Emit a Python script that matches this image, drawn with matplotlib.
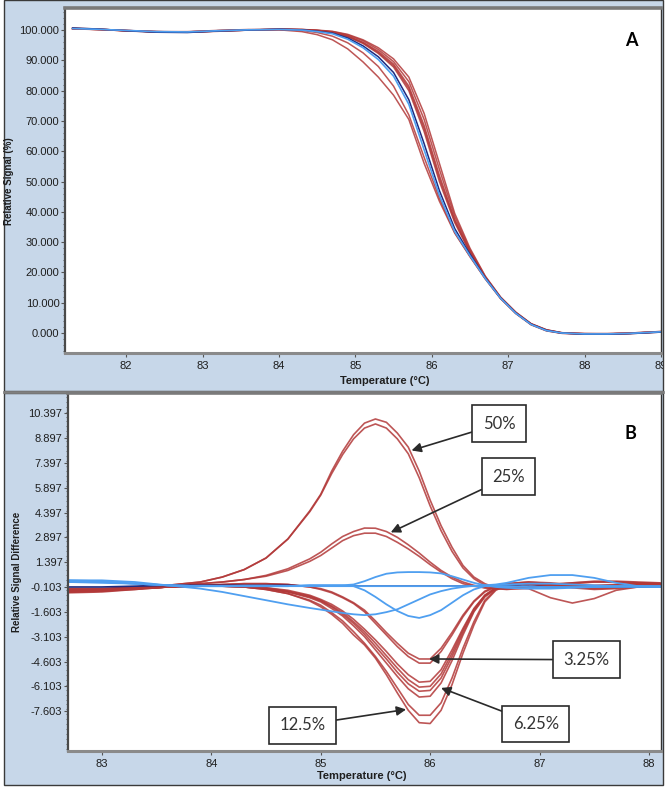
import matplotlib
matplotlib.use('Agg')
import matplotlib.pyplot as plt
from matplotlib.patches import Rectangle
from matplotlib.lines import Line2D
from matplotlib.ticker import FixedLocator, MultipleLocator, FormatStrFormatter

# ---------------- data: panel A (melting curves) ----------------
T_A = [81.3, 81.6, 82.0, 82.4, 82.8, 83.2, 83.6, 84.0, 84.3, 84.5, 84.7, 84.9, 85.1, 85.3,
       85.5, 85.7, 85.9, 86.1, 86.3, 86.5, 86.7, 86.9, 87.1, 87.3, 87.5, 87.7, 88.0, 88.3,
       88.6, 89.0]
blue_A = [100.5, 100.3, 99.9, 99.5, 99.4, 99.8, 100.1, 100.2, 100.0, 99.5, 98.8, 97.0, 94.2, 90.3,
          84.8, 75.5, 60.5, 45.5, 33.5, 25.5, 18.0, 11.5, 6.5, 2.8, 0.8, 0.0, -0.3, -0.3, -0.1, 0.4]
navy_A = [100.7, 100.4, 99.8, 99.3, 99.2, 99.7, 100.0, 100.3, 100.1, 99.6, 99.0, 97.4, 94.8, 91.2,
          86.0, 77.0, 62.5, 47.0, 34.5, 26.0, 18.2, 11.6, 6.6, 2.9, 0.9, 0.0, -0.4, -0.4, -0.2, 0.3]
red_A1 = [100.6, 100.4, 99.7, 99.4, 99.3, 99.6, 100.0, 100.1, 99.5, 98.5, 96.8, 93.8, 89.5, 84.5,
          78.5, 70.5, 56.0, 43.5, 33.0, 25.2, 17.9, 11.4, 6.4, 2.7, 0.7, -0.1, -0.4, -0.4, -0.2, 0.3]
red_A2 = [100.4, 100.2, 99.8, 99.5, 99.5, 99.9, 100.2, 100.1, 99.9, 99.2, 98.0, 95.8, 92.5, 88.0,
          81.5, 72.0, 58.0, 44.5, 33.2, 25.3, 17.9, 11.4, 6.5, 2.8, 0.8, -0.1, -0.3, -0.3, -0.1, 0.4]
red_A3 = [100.5, 100.3, 99.9, 99.4, 99.4, 99.8, 100.1, 100.3, 100.1, 99.8, 99.2, 97.8, 95.6, 92.3,
          87.8, 80.0, 66.5, 50.0, 36.5, 26.5, 18.2, 11.6, 6.6, 2.9, 0.9, 0.0, -0.3, -0.3, -0.1, 0.4]
red_A4 = [100.6, 100.2, 99.8, 99.5, 99.3, 99.7, 100.0, 100.3, 100.2, 99.9, 99.4, 98.1, 96.0, 93.0,
          88.8, 81.5, 68.5, 52.0, 37.5, 27.0, 18.5, 11.7, 6.7, 3.0, 1.0, 0.1, -0.2, -0.3, -0.1, 0.4]
red_A5 = [100.4, 100.3, 99.9, 99.4, 99.4, 99.8, 100.1, 100.2, 100.2, 99.9, 99.5, 98.4, 96.5, 93.6,
          89.6, 83.0, 70.5, 54.0, 38.5, 27.5, 18.6, 11.8, 6.8, 3.0, 1.0, 0.1, -0.2, -0.2, 0.0, 0.5]
red_A6 = [100.5, 100.4, 99.8, 99.5, 99.3, 99.7, 100.0, 100.3, 100.2, 100.0, 99.6, 98.6, 96.8, 94.2,
          90.5, 84.5, 72.5, 56.0, 39.5, 28.0, 18.8, 11.9, 6.9, 3.1, 1.1, 0.1, -0.2, -0.2, 0.0, 0.5]
red_A7 = [100.5, 100.2, 99.9, 99.5, 99.4, 99.8, 100.1, 100.2, 100.1, 99.8, 99.3, 97.9, 95.8, 92.6,
          88.3, 80.8, 67.5, 51.0, 37.0, 26.8, 18.3, 11.6, 6.6, 2.9, 0.9, 0.0, -0.3, -0.3, -0.1, 0.4]

yticks_A = [0, 10, 20, 30, 40, 50, 60, 70, 80, 90, 100]
xticks_A = [82, 83, 84, 85, 86, 87, 88, 89]

# ---------------- data: panel B (difference curves) ----------------
T_B = [82.7, 83.0, 83.3, 83.6, 83.9, 84.1, 84.3, 84.5, 84.7, 84.9, 85.0, 85.1, 85.2, 85.3, 85.4,
       85.5, 85.6, 85.7, 85.8, 85.9, 86.0, 86.1, 86.2, 86.3, 86.4, 86.5, 86.6, 86.7, 86.9, 87.1,
       87.3, 87.5, 87.7, 87.9, 88.1]
p50a = [-0.2, -0.2, -0.1, 0.0, 0.2, 0.5, 0.95, 1.65, 2.8, 4.5, 5.5, 6.9, 8.1, 9.1, 9.8,
        10.05, 9.85, 9.2, 8.35, 6.9, 5.15, 3.6, 2.3, 1.2, 0.5, 0.1, -0.15, -0.2, -0.2, -0.75,
        -1.07, -0.8, -0.3, -0.1, 0.0]
p50b = [-0.3, -0.25, -0.1, 0.0, 0.2, 0.5, 0.95, 1.65, 2.8, 4.45, 5.45, 6.75, 7.9, 8.85, 9.5,
        9.75, 9.5, 8.85, 7.95, 6.5, 4.8, 3.3, 2.05, 1.05, 0.4, 0.0, -0.2, -0.25, -0.15, 0.05,
        0.15, 0.25, 0.25, 0.2, 0.15]
p25a = [-0.2, -0.2, -0.1, 0.0, 0.1, 0.2, 0.35, 0.6, 1.0, 1.6, 2.0, 2.5, 2.95, 3.25, 3.46,
        3.45, 3.25, 2.9, 2.45, 1.95, 1.4, 0.9, 0.5, 0.2, 0.0, -0.15, -0.2, -0.2, -0.1, 0.0,
        0.1, 0.2, 0.2, 0.15, 0.1]
p25b = [-0.3, -0.25, -0.1, 0.0, 0.1, 0.2, 0.35, 0.55, 0.9, 1.45, 1.8, 2.25, 2.7, 3.0, 3.15,
        3.15, 2.95, 2.6, 2.2, 1.75, 1.25, 0.8, 0.4, 0.1, -0.05, -0.15, -0.2, -0.2, -0.1, 0.05,
        0.15, 0.2, 0.2, 0.15, 0.1]
n1 = [-0.3, -0.3, -0.2, -0.1, 0.0, 0.05, 0.1, 0.1, 0.05, -0.1, -0.2, -0.4, -0.7, -1.05, -1.5,
      -2.15, -2.85, -3.5, -4.1, -4.45, -4.45, -3.8, -2.85, -1.8, -0.95, -0.35, -0.05, 0.1, 0.2, 0.15,
      0.05, 0.0, 0.05, 0.1, 0.1]
n2 = [-0.3, -0.3, -0.2, -0.1, 0.0, 0.05, 0.1, 0.1, 0.05, -0.1, -0.25, -0.45, -0.75, -1.1, -1.6,
      -2.3, -3.0, -3.7, -4.3, -4.7, -4.7, -4.0, -3.0, -1.9, -1.0, -0.4, -0.1, 0.1, 0.2, 0.1,
      0.0, -0.05, 0.0, 0.1, 0.1]
n3 = [-0.3, -0.3, -0.2, -0.1, -0.05, 0.0, -0.05, -0.15, -0.3, -0.6, -0.85, -1.15, -1.55, -2.05, -2.65,
      -3.3, -4.0, -4.75, -5.4, -5.85, -5.8, -5.1, -3.9, -2.6, -1.4, -0.6, -0.15, 0.05, 0.15, 0.1,
      0.0, -0.1, -0.05, 0.0, 0.05]
n4 = [-0.35, -0.3, -0.2, -0.1, -0.05, 0.0, -0.05, -0.15, -0.35, -0.65, -0.9, -1.25, -1.65, -2.2, -2.8,
      -3.5, -4.25, -5.0, -5.7, -6.15, -6.1, -5.35, -4.1, -2.7, -1.45, -0.6, -0.15, 0.05, 0.1, 0.05,
      -0.05, -0.15, -0.1, 0.0, 0.0]
n5 = [-0.4, -0.35, -0.2, -0.1, -0.05, -0.05, -0.1, -0.2, -0.4, -0.7, -0.95, -1.3, -1.75, -2.3, -2.95,
      -3.7, -4.45, -5.25, -5.95, -6.4, -6.35, -5.6, -4.3, -2.85, -1.55, -0.65, -0.2, 0.0, 0.1, 0.05,
      -0.1, -0.2, -0.15, -0.05, 0.0]
n6 = [-0.4, -0.35, -0.25, -0.1, -0.05, -0.05, -0.1, -0.2, -0.4, -0.75, -1.0, -1.4, -1.85, -2.45, -3.1,
      -3.9, -4.7, -5.5, -6.25, -6.75, -6.7, -5.9, -4.55, -3.0, -1.6, -0.7, -0.2, 0.0, 0.1, 0.0,
      -0.15, -0.25, -0.2, -0.1, -0.05]
n7 = [-0.45, -0.4, -0.25, -0.1, -0.05, -0.05, -0.1, -0.25, -0.5, -0.9, -1.2, -1.65, -2.15, -2.8, -3.5,
      -4.3, -5.2, -6.2, -7.2, -7.85, -7.85, -7.1, -5.6, -3.8, -2.2, -0.9, -0.25, 0.0, 0.1, 0.0,
      -0.1, -0.1, 0.0, 0.05, 0.05]
n8 = [-0.4, -0.35, -0.2, -0.1, -0.05, -0.05, -0.1, -0.25, -0.5, -0.95, -1.3, -1.75, -2.3, -3.0, -3.6,
      -4.4, -5.4, -6.5, -7.55, -8.3, -8.35, -7.55, -6.0, -4.1, -2.4, -1.0, -0.3, 0.0, 0.1, 0.0,
      -0.1, -0.1, 0.0, 0.1, 0.1]
b1 = [0.3, 0.25, 0.1, 0.0, -0.05, -0.05, -0.05, -0.05, -0.05, -0.05, -0.05, -0.05, -0.05, -0.05, -0.05,
      -0.05, -0.05, -0.05, -0.05, -0.05, -0.05, -0.05, -0.05, -0.05, -0.05, -0.05, -0.05, -0.05, -0.1, -0.1,
      -0.1, -0.1, -0.1, -0.1, -0.1]
b2 = [0.2, 0.2, 0.1, 0.0, -0.05, -0.05, -0.05, -0.05, -0.05, 0.0, 0.0, 0.0, 0.0, 0.05, 0.25,
      0.5, 0.7, 0.78, 0.8, 0.8, 0.78, 0.72, 0.55, 0.35, 0.15, 0.0, -0.1, -0.15, -0.2, -0.2,
      -0.15, -0.1, -0.05, -0.05, -0.05]
b3 = [0.3, 0.3, 0.2, 0.0, -0.2, -0.4, -0.65, -0.9, -1.15, -1.37, -1.47, -1.57, -1.67, -1.75, -1.8,
      -1.75, -1.62, -1.45, -1.15, -0.85, -0.55, -0.35, -0.2, -0.1, -0.03, 0.0, 0.05, 0.15, 0.45, 0.62,
      0.62, 0.45, 0.15, -0.05, -0.1]
b4 = [0.2, 0.15, 0.1, 0.0, -0.05, -0.05, -0.05, -0.05, -0.05, 0.0, 0.0, 0.0, 0.0, -0.05, -0.3,
      -0.7, -1.15, -1.55, -1.85, -1.97, -1.8, -1.5, -1.05, -0.6, -0.25, -0.05, 0.0, 0.05, 0.1, 0.1,
      0.05, 0.0, -0.05, -0.05, -0.05]
navy_B = [-0.1, -0.1, -0.05, 0.0, 0.0, 0.0, 0.0, 0.0, 0.0, -0.05, -0.05, -0.05, -0.05, -0.05, -0.05,
          -0.05, -0.05, -0.05, -0.05, -0.05, -0.05, -0.05, -0.05, -0.05, -0.05, -0.05, -0.05, -0.05, -0.05, -0.1,
          -0.1, -0.1, -0.1, -0.1, -0.1]

yticks_B = [-7.603, -6.103, -4.603, -3.103, -1.603, -0.103, 1.397, 2.897, 4.397, 5.897, 7.397,
            8.897, 10.397]
xticks_B = [83, 84, 85, 86, 87, 88]

labels_B = ["50%", "25%", "3.25%", "6.25%", "12.5%"]
arrow_tips_B = [(85.83, 8.15), (85.64, 3.2), (85.99, -4.45), (86.1, -6.2), (85.78, -7.5)]
box_pos_B = [(0.727, 0.914), (0.743, 0.766), (0.874, 0.255), (0.789, 0.075), (0.395, 0.072)]

# ---------------- figure ----------------
W, H = 668, 789
fig = plt.figure(figsize=(W / 100, H / 100), dpi=100)
fig.patch.set_facecolor('white')
BG = '#c7d7e9'
TICKFONT = ['Liberation Sans', 'DejaVu Sans']


def fx(px):
    return px / W


def fy(py):
    return 1 - py / H


rectA = Rectangle((fx(4), fy(391)), fx(663) - fx(4), fy(0) - fy(391), transform=fig.transFigure,
                  facecolor=BG, edgecolor='#3a3a3a', lw=1.0, zorder=-5)
rectB = Rectangle((fx(4), fy(785)), fx(663) - fx(4), fy(393) - fy(785), transform=fig.transFigure,
                  facecolor=BG, edgecolor='#3a3a3a', lw=1.0, zorder=-5)
fig.patches.extend([rectA, rectB])
fig.lines.append(Line2D([fx(4), fx(663)], [fy(391.5), fy(391.5)], transform=fig.transFigure,
                        color='#7f7f7f', lw=2.0, zorder=-4))

RED = '#b23838'
LBLUE = '#4f9ff0'
NAVY = '#1c2a80'


def style_axes(ax):
    ax.set_facecolor('white')
    ax.set_zorder(2)
    ax.spines['left'].set_color('#4a4a4a')
    ax.spines['left'].set_linewidth(1.6)
    ax.spines['bottom'].set_color('#8a8a8a')
    ax.spines['bottom'].set_linewidth(2.2)
    ax.spines['top'].set_color('#7a7a7a')
    ax.spines['top'].set_linewidth(2.6)
    ax.spines['right'].set_color('#333333')
    ax.spines['right'].set_linewidth(1.0)
    ax.tick_params(axis='both', which='major', direction='out', length=3, width=0.8,
                   colors='#555555', labelcolor='#1e1e1e', labelsize=8)
    ax.tick_params(axis='y', which='major', pad=1)
    ax.tick_params(axis='x', which='major', pad=3)
    ax.tick_params(axis='y', which='minor', direction='out', length=1.5, width=0.6, colors='#555555')
    for lbl in ax.get_xticklabels() + ax.get_yticklabels():
        lbl.set_family(TICKFONT)


# ---------------- panel A ----------------
axA = fig.add_axes([fx(65), fy(353), fx(661) - fx(65), fy(8) - fy(353)])
for ys in [red_A1, red_A2, red_A3, red_A7, red_A4, red_A5, red_A6]:
    axA.plot(T_A, ys, color=RED, lw=1.1, alpha=0.85)
axA.plot(T_A, navy_A, color=NAVY, lw=1.1)
axA.plot(T_A, blue_A, color=LBLUE, lw=1.2)
axA.set_xlim(81.2, 89.0)
axA.set_ylim(-6.6, 107.3)
axA.yaxis.set_major_locator(FixedLocator(yticks_A))
axA.yaxis.set_major_formatter(FormatStrFormatter('%.3f'))
axA.yaxis.set_minor_locator(MultipleLocator(2))
axA.xaxis.set_major_locator(FixedLocator(xticks_A))
axA.xaxis.set_major_formatter(FormatStrFormatter('%d'))
style_axes(axA)
for tk in axA.xaxis.get_major_ticks():
    tk.label1.set_clip_on(True)
    tk.label1.set_clip_path(rectA)
axA.text(0.951, 0.905, 'A', transform=axA.transAxes, ha='center', va='center',
         fontsize=13, fontweight='bold', family=['Lato', 'DejaVu Sans'], color='black')
fig.text(fx(385), fy(381), 'Temperature (°C)', ha='center', va='center', fontsize=8,
         fontweight='bold', family=TICKFONT, color='#1e1e1e')
fig.text(fx(9), fy(181), 'Relative Signal (%)', ha='center', va='center', rotation=90,
         fontsize=7, fontweight='bold', family=TICKFONT, color='#1e1e1e')

# ---------------- panel B ----------------
axB = fig.add_axes([fx(68), fy(751), fx(661) - fx(68), fy(393) - fy(751)])
for ys in [p50a, p50b, p25a, p25b, n1, n2, n3, n4, n5, n6, n7, n8]:
    axB.plot(T_B, ys, color=RED, lw=1.2, alpha=0.85)
axB.plot(T_B, navy_B, color=NAVY, lw=1.2)
for ys in [b1, b2, b3, b4]:
    axB.plot(T_B, ys, color=LBLUE, lw=1.3)
axB.set_xlim(82.69, 88.11)
axB.set_ylim(-10.01, 11.62)
axB.yaxis.set_major_locator(FixedLocator(yticks_B))
axB.yaxis.set_major_formatter(FormatStrFormatter('%.3f'))
axB.yaxis.set_minor_locator(MultipleLocator(0.3))
axB.xaxis.set_major_locator(FixedLocator(xticks_B))
axB.xaxis.set_major_formatter(FormatStrFormatter('%d'))
style_axes(axB)
axB.text(0.948, 0.886, 'B', transform=axB.transAxes, ha='center', va='center',
         fontsize=13, fontweight='bold', family=['Lato', 'DejaVu Sans'], color='black')
fig.text(fx(362), fy(776), 'Temperature (°C)', ha='center', va='center', fontsize=8,
         fontweight='bold', family=TICKFONT, color='#1e1e1e')
fig.text(fx(17), fy(572), 'Relative Signal Difference', ha='center', va='center', rotation=90,
         fontsize=7, fontweight='bold', family=TICKFONT, color='#1e1e1e')

for txt, tip, pos in zip(labels_B, arrow_tips_B, box_pos_B):
    axB.annotate(txt, xy=tip, xycoords='data', xytext=pos, textcoords='axes fraction',
                 ha='center', va='center', fontsize=12, family=['Lato', 'DejaVu Sans'],
                 color='#333333',
                 bbox=dict(boxstyle='square,pad=0.62', fc='white', ec='#2a2a2a', lw=1.2),
                 arrowprops=dict(arrowstyle='-|>', color='#2a2a2a', lw=1.2, mutation_scale=14,
                                 shrinkA=0, shrinkB=0))

fig.savefig('out.png', dpi=100, facecolor=fig.get_facecolor())
